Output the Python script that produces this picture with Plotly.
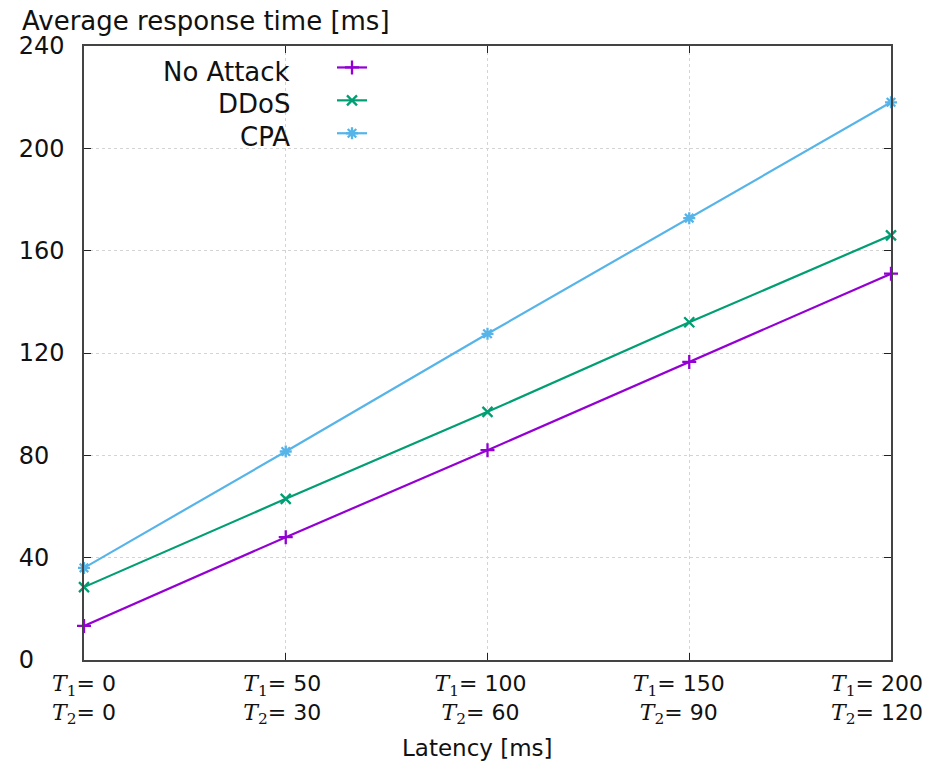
import plotly.graph_objects as go

t1_vals = [0, 50, 100, 150, 200]
t2_vals = [0, 30, 60, 90, 120]
no_attack = [13.3, 48.0, 82.0, 116.5, 151.0]
ddos = [28.5, 63.0, 97.0, 132.0, 166.0]
cpa = [36.0, 81.5, 127.5, 172.7, 218.0]
series_names = ["No Attack", "DDoS", "CPA"]
colors = ["#9400D3", "#009E73", "#56B4E9"]
symbols = ["cross-thin", "x-thin", "asterisk"]
y_ticks = [0, 40, 80, 120, 160, 200, 240]

nb = "\u00a0"
x_idx = list(range(len(t1_vals)))
T = '<span style="font-family:DejaVu Serif"><i>T</i><sub>{}</sub></span>'
pads = [0, 1, 2, 3, 4]
x_text = [f"{T.format(1)}= {a}{nb * p}<br>{T.format(2)}= {b}{nb * p}"
          for a, b, p in zip(t1_vals, t2_vals, pads)]
y_text = [str(v) + nb * (2 * (3 - len(str(v)))) for v in y_ticks]

fig = go.Figure()
for name, vals, c, s in zip(series_names, [no_attack, ddos, cpa], colors, symbols):
    fig.add_trace(go.Scatter(
        x=x_idx, y=vals, name=name, mode="lines+markers",
        line=dict(color=c, width=2.2),
        marker=dict(symbol=s, size=10, color=c, line=dict(color=c, width=2.3)),
        cliponaxis=False,
    ))

axis_common = dict(showline=True, linecolor="#444", linewidth=1.5, mirror="ticks",
                   ticks="inside", ticklen=7, tickcolor="#222", tickwidth=1.2,
                   showgrid=True, gridcolor="#d4d4d4", griddash="dot", gridwidth=1,
                   zeroline=False, automargin=False, ticklabeloverflow="allow")
# page body has an 8px margin: the figure starts at (8, 8)
fig.update_layout(
    width=924, height=754,
    margin=dict(l=76, r=41, t=38, b=102),
    plot_bgcolor="white", paper_bgcolor="white",
    font=dict(family="DejaVu Sans", color="#111"),
    xaxis=dict(range=[0, 4], tickmode="array", tickvals=x_idx, ticktext=x_text,
               tickfont=dict(size=22, family="DejaVu Sans", color="#111"),
               ticklabelstandoff=3, **axis_common),
    yaxis=dict(range=[0, 240], tickmode="array", tickvals=y_ticks, ticktext=y_text,
               tickfont=dict(size=24, family="DejaVu Sans", color="#111"), ticklabelstandoff=13,
               **axis_common),
    showlegend=True,
    legend=dict(x=(332 - 84) / 807, y=1.0, xanchor="left", yanchor="top",
                bgcolor="rgba(0,0,0,0)", font=dict(size=23, family="DejaVu Sans", color="rgba(0,0,0,0)"),
                tracegroupgap=0),
    shapes=[dict(type="rect", xref="paper", yref="paper", x0=0.002, x1=(405 - 84) / 807,
                 y0=(660 - 152) / 614, y1=0.997, fillcolor="white", line=dict(width=0),
                 layer="between")],
    annotations=[
        dict(text="Average response time [ms]", xref="paper", yref="paper",
             x=(20 - 84) / 807, y=(660 - 21) / 614, xanchor="left", yanchor="middle",
             showarrow=False, font=dict(size=26, family="DejaVu Sans", color="#111")),
        dict(text="Latency [ms]", xref="paper", yref="paper",
             x=(477 - 84) / 807, y=(660 - 748) / 614, xanchor="center", yanchor="middle",
             showarrow=False, font=dict(size=23, family="DejaVu Sans", color="#111")),
    ] + [
        dict(text=n, xref="paper", yref="paper", x=(292 - 84) / 807,
             y=(660 - yy) / 614, xanchor="right", yanchor="middle", showarrow=False,
             font=dict(size=26, family="DejaVu Sans", color="#111"))
        for n, yy in zip(series_names, [72, 104, 137])
    ],
)
fig.write_html("out.html")
